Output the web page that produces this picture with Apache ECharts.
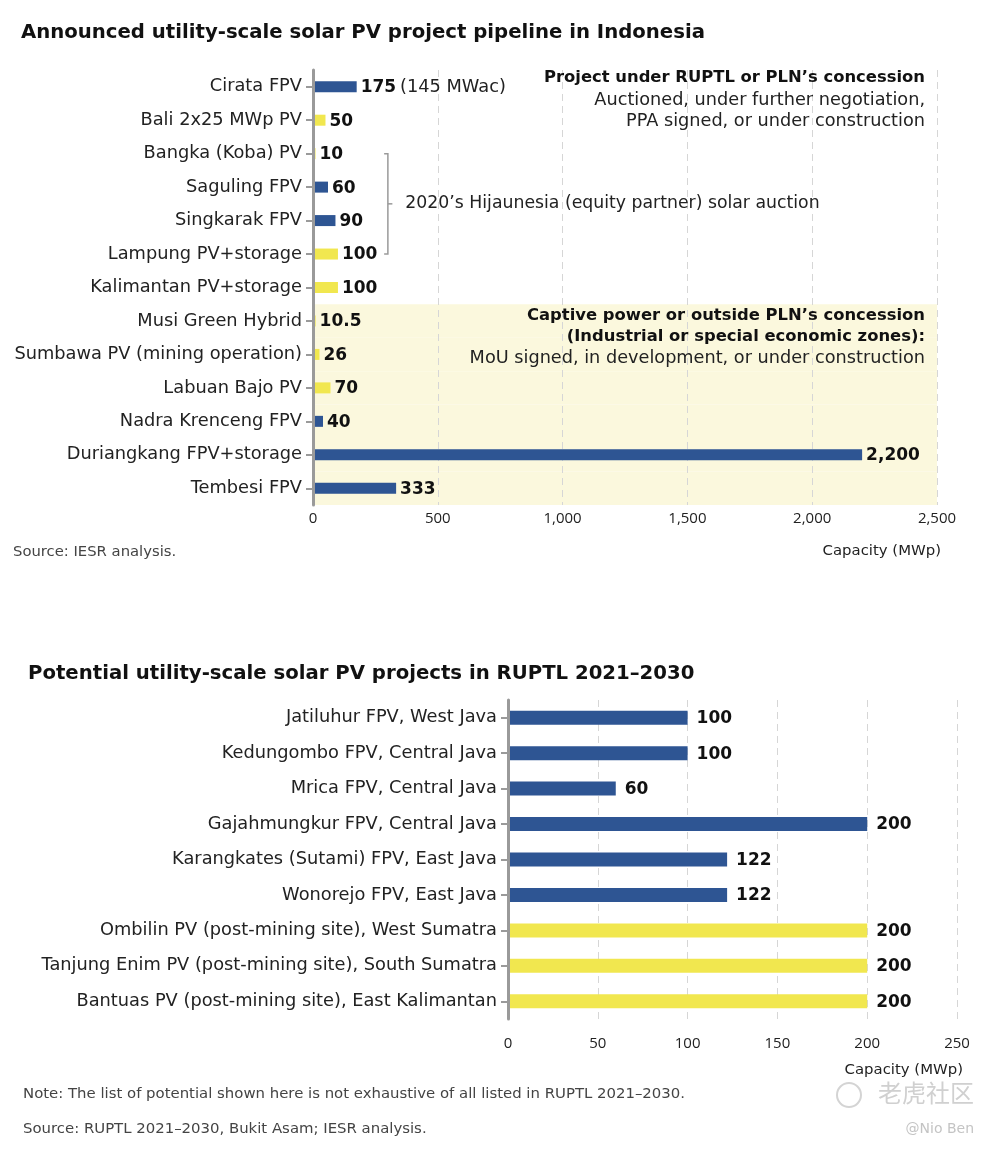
<!DOCTYPE html>
<html>
<head>
<meta charset="utf-8">
<script src="https://cdn.jsdelivr.net/npm/echarts@6/dist/echarts.min.js"></script>
<style>
html,body{margin:0;padding:0;background:#fff;}
#c{width:992px;height:1150px;}
</style>
</head>
<body>
<div id="c"></div>
<script>
// ---------- data ----------
const topCategories = ['Cirata FPV','Bali 2x25 MWp PV','Bangka (Koba) PV','Saguling FPV','Singkarak FPV','Lampung PV+storage','Kalimantan PV+storage','Musi Green Hybrid','Sumbawa PV (mining operation)','Labuan Bajo PV','Nadra Krenceng FPV','Duriangkang FPV+storage','Tembesi FPV'];
const topValues = [175,50,10,60,90,100,100,10.5,26,70,40,2200,333];
const topTypes = ['FPV','PV','PV','FPV','FPV','PV','PV','PV','PV','PV','FPV','FPV','FPV'];
const topCaptive = [false,false,false,false,false,false,false,true,true,true,true,true,true];
const topTicks = [0,500,1000,1500,2000,2500];

const botCategories = ['Jatiluhur FPV, West Java','Kedungombo FPV, Central Java','Mrica FPV, Central Java','Gajahmungkur FPV, Central Java','Karangkates (Sutami) FPV, East Java','Wonorejo FPV, East Java','Ombilin PV (post-mining site), West Sumatra','Tanjung Enim PV (post-mining site), South Sumatra','Bantuas PV (post-mining site), East Kalimantan'];
const botValues = [100,100,60,200,122,122,200,200,200];
const botTypes = ['FPV','FPV','FPV','FPV','FPV','FPV','PV','PV','PV'];
const botTicks = [0,50,100,150,200,250];

// ---------- styles ----------
const FONT = 'DejaVu Sans';
const TICKFONT = 'Open Sans';
const BLUE = '#2e5593';
const YELLOW = '#f1e74f';
const BAND = '#fbf8dd';
const colorOf = t => t === 'FPV' ? BLUE : YELLOW;

const chart = echarts.init(document.getElementById('c'), null, {renderer:'canvas'});

const fmtNum = v => Number(v).toLocaleString('en-US');

const option = {
  backgroundColor:'#fff',
  animation:false,
  textStyle:{fontFamily:FONT},
  title:[
    {text:'Announced utility-scale solar PV project pipeline in Indonesia', left:16, top:18,
     textStyle:{fontFamily:FONT, fontWeight:'bold', fontSize:19.7, color:'#111'}},
    {text:'Potential utility-scale solar PV projects in RUPTL 2021–2030', left:23, top:659,
     textStyle:{fontFamily:FONT, fontWeight:'bold', fontSize:19.7, color:'#111'}}
  ],
  grid:[
    {left:313, top:70, width:624, height:435, containLabel:false},
    {left:508, top:700, width:449, height:319, containLabel:false}
  ],
  xAxis:[
    {type:'value', gridIndex:0, min:topTicks[0], max:topTicks[topTicks.length-1], interval:topTicks[1]-topTicks[0],
     axisLine:{show:false}, axisTick:{show:false},
     axisLabel:{color:'#222', fontSize:15, margin:6, fontFamily:TICKFONT, formatter:v=>fmtNum(v)},
     splitLine:{show:true, lineStyle:{color:'#d6d6d6', type:[7,5], width:1}}},
    {type:'value', gridIndex:1, min:botTicks[0], max:botTicks[botTicks.length-1], interval:botTicks[1]-botTicks[0],
     axisLine:{show:false}, axisTick:{show:false},
     axisLabel:{color:'#222', fontSize:15, margin:17, fontFamily:TICKFONT},
     splitLine:{show:true, lineStyle:{color:'#d6d6d6', type:[7,5], width:1}}}
  ],
  yAxis:[
    {type:'category', gridIndex:0, data:topCategories, inverse:true,
     axisLine:{show:true, lineStyle:{color:'#9a9a9a', width:3}},
     axisTick:{show:true, alignWithLabel:true, length:7, lineStyle:{color:'#9a9a9a', width:2}},
     axisLabel:{color:'#222', fontSize:17.8, margin:11, fontFamily:FONT}, z:3},
    {type:'category', gridIndex:0, data:topCategories, inverse:true, show:false},
    {type:'category', gridIndex:1, data:botCategories, inverse:true,
     axisLine:{show:true, lineStyle:{color:'#9a9a9a', width:3}},
     axisTick:{show:true, alignWithLabel:true, length:7, lineStyle:{color:'#9a9a9a', width:2}},
     axisLabel:{color:'#222', fontSize:17.8, margin:11, fontFamily:FONT}, z:3}
  ],
  series:[
    {type:'bar', name:'band', xAxisIndex:0, yAxisIndex:1, barWidth:'100%', silent:true, z:-1,
     itemStyle:{color:BAND},
     data:topCaptive.map(c => c ? topTicks[topTicks.length-1] : '-')},
    {type:'bar', name:'top', xAxisIndex:0, yAxisIndex:0, barWidth:11,
     data:topValues.map((v,i)=>({value:v, itemStyle:{color:colorOf(topTypes[i])}})),
     label:{show:true, position:'right', distance:4, fontFamily:FONT, offset:[0,1],
       formatter:p => p.dataIndex === 0 ? '{b|' + fmtNum(p.value) + '} {n|(145 MWac)}' : '{b|' + fmtNum(p.value) + '}',
       rich:{b:{fontWeight:'bold', fontSize:17, color:'#111', fontFamily:FONT},
             n:{fontSize:17.8, color:'#222', fontFamily:FONT}}}},
    {type:'bar', name:'bottom', xAxisIndex:1, yAxisIndex:2, barWidth:14,
     data:botValues.map((v,i)=>({value:v, itemStyle:{color:colorOf(botTypes[i])}})),
     label:{show:true, position:'right', distance:9, fontFamily:FONT, fontWeight:'bold', fontSize:17, color:'#111',
       offset:[0,1], formatter:p => fmtNum(p.value)}}
  ]
};
chart.setOption(option);

// ---------- annotations ----------
const px = (v, c) => chart.convertToPixel({xAxisIndex:0, yAxisIndex:0}, [v, c]);
const a = px(300, 'Bangka (Koba) PV');
const b = px(300, 'Lampung PV+storage');
const aL = px(285, 'Bangka (Koba) PV');
const midY = (a[1] + b[1]) / 2;
const midR = px(318, 'Bangka (Koba) PV');
const txt = px(370, 'Bangka (Koba) PV');

const txtStyle = (t, x, y, o) => Object.assign({type:'text', x:x, y:y, silent:true,
  style:Object.assign({text:t, fontFamily:FONT, fontSize:17.7, fill:'#222', textVerticalAlign:'middle'}, o||{})});

chart.setOption({
  graphic:[
    {type:'polyline', silent:true, shape:{points:[[aL[0],a[1]],[a[0],a[1]],[a[0],b[1]],[aL[0],b[1]]]},
     style:{stroke:'#9a9a9a', lineWidth:1.5, fill:null}},
    {type:'line', silent:true, shape:{x1:a[0], y1:midY, x2:midR[0], y2:midY}, style:{stroke:'#9a9a9a', lineWidth:1.5}},
    txtStyle('2020’s Hijaunesia (equity partner) solar auction', txt[0], midY, {fontSize:17.3}),
    txtStyle('Project under RUPTL or PLN’s concession', 925, 78, {textAlign:'right', fontWeight:'bold', fontSize:16.4, fill:'#111'}),
    txtStyle('Auctioned, under further negotiation,', 925, 100, {textAlign:'right'}),
    txtStyle('PPA signed, or under construction', 925, 121, {textAlign:'right'}),
    txtStyle('Captive power or outside PLN’s concession', 925, 316, {textAlign:'right', fontWeight:'bold', fontSize:16.4, fill:'#111'}),
    txtStyle('(Industrial or special economic zones):', 925, 337, {textAlign:'right', fontWeight:'bold', fontSize:16.4, fill:'#111'}),
    txtStyle('MoU signed, in development, or under construction', 925, 358, {textAlign:'right'}),
    txtStyle('Capacity (MWp)', 941, 551, {textAlign:'right', fontSize:14.9}),
    txtStyle('Source: IESR analysis.', 13, 552, {fontSize:14.8, fill:'#444'}),
    txtStyle('Capacity (MWp)', 963, 1070, {textAlign:'right', fontSize:14.9}),
    txtStyle('Note: The list of potential shown here is not exhaustive of all listed in RUPTL 2021–2030.', 23, 1094, {fontSize:14.9, fill:'#444'}),
    txtStyle('Source: RUPTL 2021–2030, Bukit Asam; IESR analysis.', 23, 1129, {fontSize:14.9, fill:'#444'}),
    {type:'circle', silent:true, shape:{cx:849, cy:1095, r:12}, style:{stroke:'#d4d4d4', lineWidth:2, fill:null}},
    txtStyle('老虎社区', 974, 1093, {textAlign:'right', fontSize:24, fill:'#d0d0d0', fontFamily:'Noto Sans CJK SC'}),
    txtStyle('@Nio Ben', 974, 1129, {textAlign:'right', fontSize:14, fill:'#c4c4c4'})
  ]
});
</script>
</body>
</html>
